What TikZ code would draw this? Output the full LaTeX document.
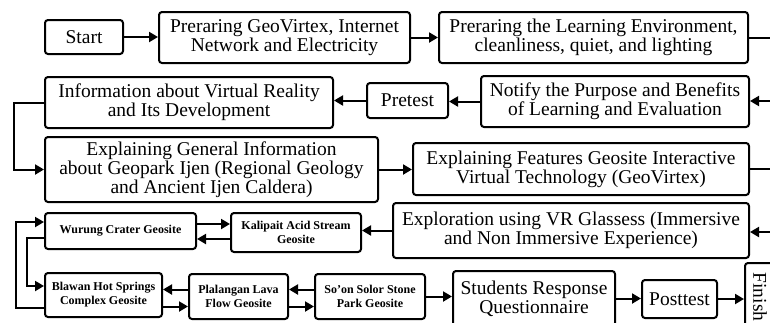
\documentclass[tikz,border=0pt]{standalone}
\usepackage{fontspec}
\setmainfont{Liberation Serif}
\usetikzlibrary{arrows.meta}

\newcommand{\bigtxt}{\fontsize{19.5}{19}\selectfont}
\newcommand{\smalltxt}{\fontsize{12}{14}\selectfont\bfseries}

\tikzset{
    stepbox/.style={draw, line width=2pt, rounded corners=3pt, align=center,
        inner sep=0pt, font=\bigtxt},
    sitebox/.style={stepbox, font=\smalltxt},
    flow/.style={line width=2pt, -{Triangle[length=9pt,width=10pt]}},
    link/.style={line width=2pt}
}

\begin{document}
\begin{tikzpicture}[x=1pt,y=-1pt]
    \useasboundingbox (0,0) rectangle (770,322);
    \clip (0,0) rectangle (770,322);

    \node[stepbox, minimum width=78, minimum height=34] (start) at (84,37) {Start};
    \node[stepbox, minimum width=251, minimum height=51] (geo) at (284.5,37.5)
        {Preraring GeoVirtex, Internet\\Network and Electricity};
    \node[stepbox, minimum width=309, minimum height=51] (env) at (593.5,37.5)
        {Preraring the Learning Environment,\\cleanliness, quiet, and lighting};

    \node[stepbox, minimum width=268, minimum height=51] (notify) at (615,101.5)
        {Notify the Purpose and Benefits\\of Learning and Evaluation};
    \node[stepbox, minimum width=81, minimum height=35] (pretest) at (407.5,100.5) {Pretest};
    \node[stepbox, minimum width=288, minimum height=51] (info) at (189,102.5)
        {Information about Virtual Reality\\and Its Development};

    \node[stepbox, minimum width=333, minimum height=65] (general) at (211.5,169.5)
        {Explaining General Information\\about Geopark Ijen (Regional Geology\\and Ancient Ijen Caldera)};
    \node[stepbox, minimum width=336, minimum height=52] (features) at (581,169)
        {Explaining Features Geosite Interactive\\Virtual Technology (GeoVirtex)};

    \node[stepbox, minimum width=356, minimum height=55] (explore) at (571,230.5)
        {Exploration using VR Glassess (Immersive\\and Non Immersive Experience)};
    \node[sitebox, minimum width=130, minimum height=39] (kalipait) at (296,232.5)
        {Kalipait Acid Stream\\Geosite};
    \node[sitebox, minimum width=151, minimum height=36] (wurung) at (120.5,231)
        {Wurung Crater Geosite};

    \node[sitebox, minimum width=117, minimum height=44] (blawan) at (103.5,295)
        {Blawan Hot Springs\\Complex Geosite};
    \node[sitebox, minimum width=99, minimum height=45] (plalangan) at (238.5,296.5)
        {Plalangan Lava\\Flow Geosite};
    \node[sitebox, minimum width=110, minimum height=45] (soon) at (370,296.5)
        {So’on Solor Stone\\Park Geosite};
    \node[stepbox, minimum width=162, minimum height=55] (students) at (534,298.5)
        {Students Response\\Questionnaire};
    \node[stepbox, minimum width=75, minimum height=38] (posttest) at (679.5,299) {Posttest};
    \node[stepbox, rotate=-90, minimum width=68, minimum height=30] (finish) at (760,297) {Finish};

    \coordinate (out1) at (775,37);
    \coordinate (in1) at (775,101);
    \coordinate (out2) at (775,169);
    \coordinate (in2) at (775,232);

    \foreach \a/\b in {start/geo, geo/env, general/features, soon/students, students/posttest}
        \draw[flow] (\a.east) -- (\a.east -| \b.west);
    \foreach \a/\b in {notify/pretest, pretest/info, explore/kalipait}
        \draw[flow] (\a.west) -- (\a.west -| \b.east);

    \draw[link] (env.east) -- (env.east -| out1);
    \draw[flow] (in1) -- (in1 -| notify.east);
    \draw[link] (features.east) -- (features.east -| out2);
    \draw[flow] (in2) -- (in2 -| explore.east);
    \draw[flow] (info.west) -- ++(-30,0) |- (general.west);
    \draw[flow] (posttest.east) -- (posttest.east -| finish.south);

    \draw[flow] ([yshift=7pt]wurung.east) -- ([yshift=7pt]wurung.east -| kalipait.west);
    \draw[flow] ([yshift=-8pt]wurung.east -| kalipait.west) -- ([yshift=-8pt]wurung.east);
    \draw[flow] ([yshift=7pt]plalangan.west) -- ([yshift=7pt]plalangan.west -| blawan.east);
    \draw[flow] ([yshift=-10pt]plalangan.west -| blawan.east) -- ([yshift=-10pt]plalangan.west);
    \draw[flow] ([yshift=7pt]soon.west) -- ([yshift=7pt]soon.west -| plalangan.east);
    \draw[flow] ([yshift=-10pt]soon.west -| plalangan.east) -- ([yshift=-10pt]soon.west);

    \draw[flow] ([yshift=-7pt]wurung.west) -- ++(-17,0) |- ([yshift=9pt]blawan.west);
    \draw[flow] ([yshift=-13pt]blawan.west) -- ++(-28,0) |- ([yshift=9pt]wurung.west);
\end{tikzpicture}
\end{document}
